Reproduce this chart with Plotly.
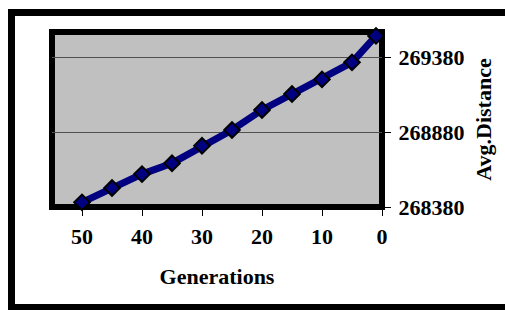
import plotly.graph_objects as go

generations = [50, 45, 40, 35, 30, 25, 20, 15, 10, 5, 1]
avg_distance = [268411, 268507, 268600, 268673, 268789, 268895, 269029, 269135, 269233, 269347, 269524]
x_ticks = [50, 40, 30, 20, 10, 0]
y_ticks = [268380, 268880, 269380]

FONT = dict(family="Liberation Serif, Times New Roman, serif", size=22, color="black", weight="bold")

fig = go.Figure()
fig.add_trace(go.Scatter(
    x=generations, y=avg_distance, mode="lines+markers",
    line=dict(color="#000080", width=7),
    marker=dict(symbol="diamond", size=12, color="#000080", line=dict(color="black", width=2)),
    cliponaxis=False, showlegend=False,
))

W, H = 505, 310
L, R, T, B = 52, 123, 32, 103
pw, ph = W - L - R, H - T - B

def px(xp):
    return (xp - L) / pw

def py(yp):
    return 1 - (yp - T) / ph

def bar(x0, y0, x1, y1):
    return dict(type="rect", xref="paper", yref="paper",
                x0=px(x0), y0=py(y1), x1=px(x1), y1=py(y0),
                fillcolor="black", line=dict(width=0), layer="above")

fig.update_layout(
    width=W, height=H,
    margin=dict(l=L, r=R, t=T, b=B, pad=0),
    paper_bgcolor="white", plot_bgcolor="#C0C0C0",
    font=FONT,
    modebar=dict(bgcolor="rgba(0,0,0,0)", color="rgba(0,0,0,0)", activecolor="rgba(0,0,0,0)"),
    xaxis=dict(
        range=[55, 0], tickvals=x_ticks, ticktext=[str(v) for v in x_ticks],
        ticks="outside", ticklen=8, tickwidth=1, tickcolor="black",
        showgrid=False, zeroline=False, showline=False,
        title=dict(text="Generations", font=FONT, standoff=20),
        tickfont=FONT, ticklabelstandoff=2,
    ),
    yaxis=dict(
        range=[268380, 269550], side="right", tickvals=y_ticks,
        ticktext=[str(v) for v in y_ticks],
        ticks="outside", ticklen=8, tickwidth=1, tickcolor="black",
        showgrid=True, gridcolor="#505050", gridwidth=1,
        zeroline=False, showline=False,
        title=dict(text="Avg.Distance", font=FONT, standoff=12),
        tickfont=FONT, ticklabelstandoff=3,
    ),
    shapes=[
        dict(type="rect", xref="paper", yref="paper", x0=0, x1=1, y0=0, y1=1,
             line=dict(color="black", width=6), fillcolor="rgba(0,0,0,0)", layer="below"),
        bar(8, 9, 505, 16),
        bar(8, 9, 15, 310),
        bar(8, 304, 505, 310),
    ],
)

fig.write_html(
    "out.html",
    config={"displaylogo": False},
    post_script="document.body.style.margin='0';document.body.style.overflow='hidden';",
)
